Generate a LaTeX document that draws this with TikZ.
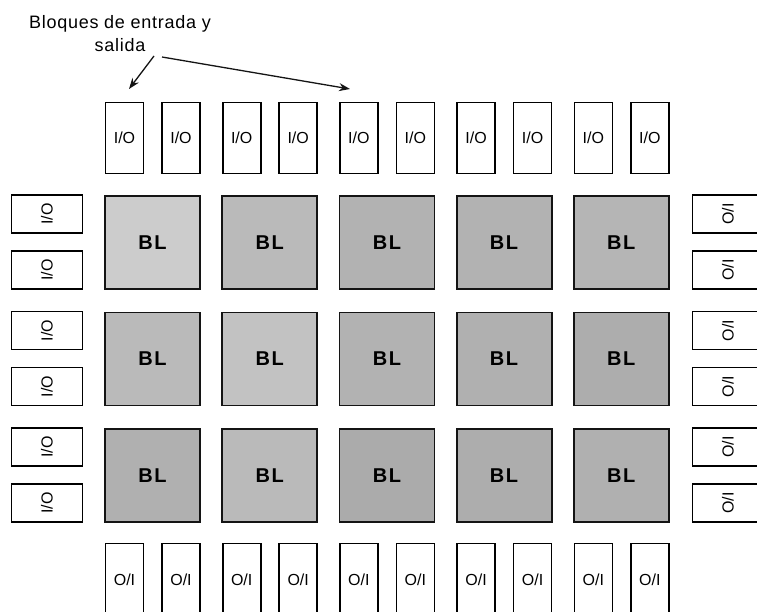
\documentclass[tikz,border=0pt]{standalone}
\usepackage{fontspec}
\setmainfont{Liberation Sans}
\usepackage{tikz}
\usetikzlibrary{arrows.meta, positioning}
\definecolor{mydark}{RGB}{20,20,20}
\tikzset{
  iobox/.style={rectangle, draw=black, fill=white, line width=1.6pt,
    minimum width=38pt, minimum height=71pt, inner sep=0pt,
    font=\fontsize{16}{18}\selectfont},
  blblock/.style={rectangle, draw=mydark, line width=1.8pt,
    minimum width=95pt, minimum height=93pt, inner sep=0pt,
    font=\fontsize{20}{24}\selectfont\bfseries\addfontfeature{LetterSpace=8}},
  note/.style={align=center, font=\fontsize{18}{23}\selectfont\addfontfeature{LetterSpace=4}},
  arrow/.style={-{Stealth[length=11pt, width=8pt]}, line width=1.3pt, color=mydark}
}

\begin{document}
\begin{tikzpicture}[x=1pt, y=-1pt]
  \useasboundingbox (0,0) rectangle (757,612);
  \clip (0,0) rectangle (757,612);

  % Top and bottom I/O rows
  \foreach \c in {0,...,4} {
    \foreach \s [count=\j] in {0,56.5} {
      \node[iobox] (t\c\j) at ({124.5+117.2*\c+\s},138) {I/O};
      \node[iobox, minimum height=73pt] (b\c\j) at ({124.5+117.2*\c+\s},580) {O/I};
    }
  }

  % Logic blocks
  \foreach \r in {0,1,2} {
    \foreach \c in {0,...,4} {
      \pgfmathtruncatemacro\g{{20,27,30,30,29,27,24,30,31,32,31,27,33,32,31}[\r*5+\c]}
      \node[blblock, fill=black!\g] (bl\r\c) at ({152.5+117.2*\c},{242.5+116.5*\r}) {\raisebox{-2pt}{BL}};
    }
  }

  % Side I/O columns
  \foreach \r in {0,1,2} {
    \foreach \d [count=\j] in {0,56} {
      \node[iobox, rotate=90] (l\r\j) at (47,{214+116.5*\r+\d}) {I/O};
      \node[iobox, rotate=90] (r\r\j) at (728,{214+116.5*\r+\d}) {O/I};
    }
  }

  % Label and pointers
  \node[note] (lbl) at (120,34) {Bloques de entrada y\\salida};
  \coordinate (s1) at (154,56);
  \coordinate (s2) at (162,57);
  \coordinate (e1) at (129,89);
  \coordinate (e2) at (350,89);
  \draw[arrow] (s1) -- (e1);
  \draw[arrow] (s2) -- (e2);
\end{tikzpicture}
\end{document}
